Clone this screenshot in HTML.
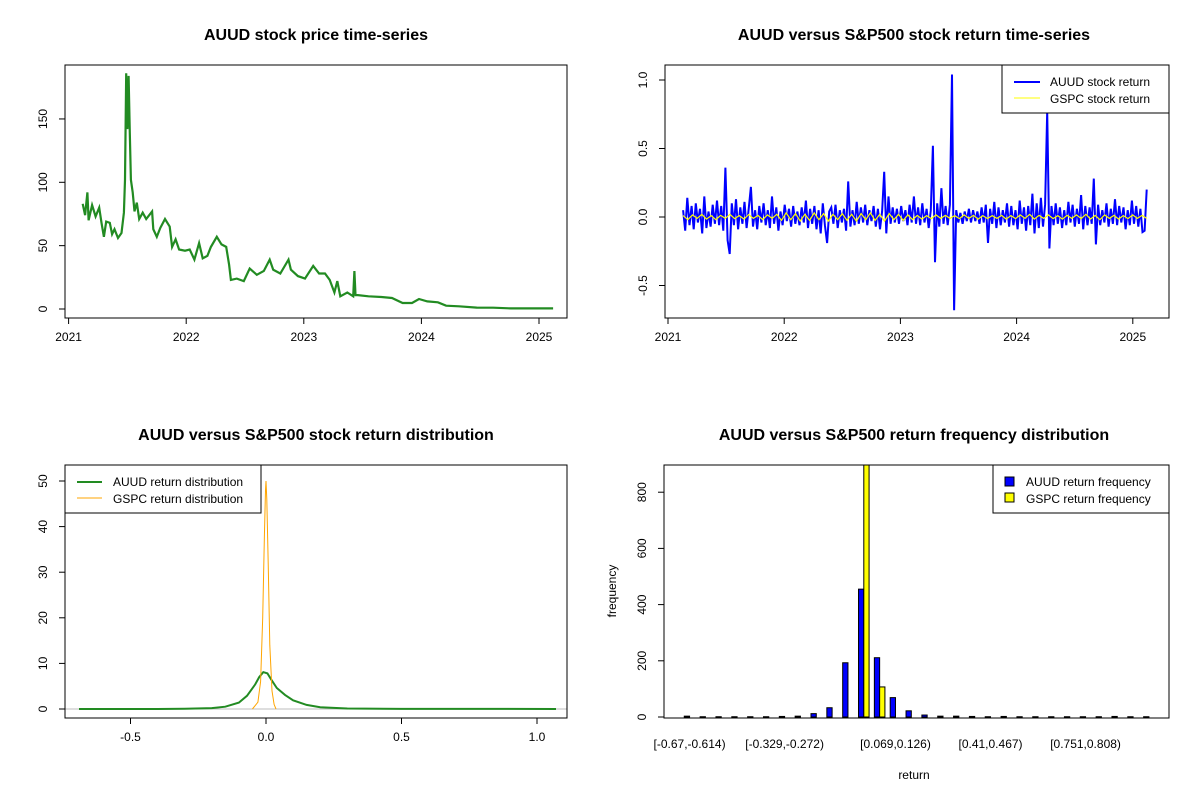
<!DOCTYPE html>
<html><head><meta charset="utf-8">
<style>
body{margin:0;background:#fff;}
svg{display:block;font-family:"Liberation Sans",Arial,sans-serif;}
.t{font-size:16px;font-weight:bold;}
.tk{font-size:12px;}
</style></head>
<body>
<svg id="c" width="1200" height="800" viewBox="0 0 1200 800"></svg>
<script>
// ---------- data ----------
const priceYears=[2021.12,2021.14,2021.16,2021.17,2021.20,2021.23,2021.26,2021.28,2021.30,2021.32,2021.35,2021.37,2021.39,2021.42,2021.45,2021.47,2021.48,2021.49,2021.50,2021.51,2021.52,2021.53,2021.545,2021.56,2021.58,2021.60,2021.63,2021.66,2021.71,2021.72,2021.75,2021.78,2021.82,2021.86,2021.88,2021.91,2021.94,2021.99,2022.03,2022.07,2022.11,2022.14,2022.18,2022.21,2022.26,2022.30,2022.34,2022.365,2022.38,2022.43,2022.49,2022.54,2022.60,2022.66,2022.71,2022.74,2022.80,2022.87,2022.89,2022.95,2023.01,2023.08,2023.13,2023.18,2023.22,2023.26,2023.285,2023.31,2023.37,2023.42,2023.43,2023.44,2023.46,2023.55,2023.66,2023.75,2023.84,2023.92,2023.98,2024.05,2024.14,2024.21,2024.32,2024.47,2024.61,2024.76,2024.91,2025.12];
const prices=[83,74,92,70,82,73,80,68,57,69,68,59,63,56,60,76,102,186,142,184,139,102,92,77,84,71,76,71,77,63,57,64,71,65,49,55,47,46,47,39,52,40,42,49,57,51,49,35,23,24,22,32,27,30,39,31,28,39,31,26,24,34,28,28,23,13,22,10,13,10,30,11,11,10,9.5,8.7,4.7,4.7,7.9,6,5.3,2.6,2.1,1.1,1,0.5,0.5,0.5];

const retStart=2021.13, retEnd=2025.12;
const auudReturns=[0.05,-0.10,0.14,-0.06,0.08,-0.09,0.10,-0.04,0.06,-0.12,0.15,-0.08,0.04,-0.07,0.09,-0.05,0.12,-0.06,0.08,-0.10,
0.36,-0.17,-0.27,0.10,-0.06,0.13,-0.09,0.07,-0.05,0.11,-0.08,0.06,0.22,-0.07,0.05,-0.09,0.08,-0.04,0.10,-0.06,
0.05,-0.08,0.15,-0.05,0.07,-0.10,0.04,-0.06,0.09,-0.03,0.06,-0.07,0.08,-0.05,0.04,-0.06,0.07,-0.04,0.12,-0.08,
0.06,-0.05,0.08,-0.09,0.05,-0.12,0.10,-0.06,-0.19,0.04,0.07,-0.05,0.09,-0.08,0.05,-0.04,0.06,-0.10,0.26,-0.07,
0.05,-0.06,0.11,-0.05,0.07,-0.04,0.09,-0.06,0.05,-0.03,0.08,-0.07,0.06,-0.09,0.04,0.33,-0.12,0.15,-0.05,0.07,
-0.04,0.06,-0.05,0.08,-0.03,0.05,-0.06,0.09,-0.04,0.15,-0.05,0.07,-0.06,0.10,-0.04,0.06,-0.08,0.05,0.52,-0.33,
0.10,-0.07,0.21,-0.05,0.08,-0.06,0.09,1.04,-0.68,0.05,-0.04,0.03,-0.05,0.04,-0.03,0.06,-0.04,0.05,-0.03,0.04,
-0.05,0.07,-0.04,0.09,-0.19,0.06,-0.05,0.11,-0.08,0.07,-0.06,0.05,-0.04,0.10,-0.07,0.08,-0.06,0.05,-0.09,0.12,
-0.05,0.07,-0.10,0.08,-0.06,0.17,-0.12,0.10,-0.08,0.14,-0.07,0.09,0.77,-0.23,0.08,-0.06,0.10,-0.05,0.07,-0.08,
0.05,-0.06,0.11,-0.04,0.09,-0.07,0.06,-0.05,0.16,-0.09,0.08,-0.06,0.07,-0.05,0.28,-0.20,0.09,-0.06,0.05,-0.04,
0.10,-0.07,0.06,-0.05,0.13,-0.06,0.08,-0.04,0.07,-0.09,0.05,-0.06,0.12,-0.05,0.08,-0.07,0.06,-0.11,-0.10,0.20];
const gspcReturns=[0.01,-0.02,0.015,-0.01,0.02,-0.015,0.01,-0.02,0.012,-0.01,0.02,-0.012,0.01,-0.015,0.018,-0.01,0.012,-0.02,0.015,-0.01,
0.02,-0.025,0.03,-0.02,0.025,-0.03,0.02,-0.025,0.03,-0.02,0.025,-0.03,0.02,-0.02,0.025,-0.025,0.02,-0.03,0.025,-0.02,
0.03,-0.025,0.02,-0.03,0.025,-0.02,0.02,-0.025,0.015,-0.02,0.012,-0.015,0.01,-0.012,0.015,-0.01,0.012,-0.01,0.01,-0.012,
0.015,-0.01,0.012,-0.015,0.01,-0.012,0.01,-0.01,0.012,-0.015,0.01,-0.012,0.015,-0.01,0.02,-0.015,0.012,-0.01,0.015,-0.012,
0.01,-0.015,0.012,-0.01,0.015,-0.012,0.02,-0.015,0.012,-0.02,0.015,-0.01,0.012,-0.015,0.01,-0.012,0.015,-0.01,0.012,-0.01];

const densAuudX=[-0.69,-0.4,-0.3,-0.2,-0.15,-0.1,-0.07,-0.04,-0.025,-0.01,0.005,0.02,0.04,0.07,0.1,0.15,0.2,0.3,0.5,0.8,1.07];
const densAuudY=[0,0,0.05,0.2,0.5,1.4,2.9,5.4,7.0,8.1,7.8,6.4,4.6,3.1,1.9,0.9,0.4,0.1,0.03,0.02,0];
const densGspcX=[-0.05,-0.03,-0.02,-0.012,-0.006,-0.002,0,0.003,0.008,0.014,0.022,0.03,0.037];
const densGspcY=[0,1.5,6,20,38,48,50,46,32,14,4,1,0];

const histLabels=["[-0.67,-0.614)","[-0.329,-0.272)","[0.069,0.126)","[0.41,0.467)","[0.751,0.808)"];
const histLabelIdx=[0,6,13,19,25];
const auudFreq=[3,1,1,1,1,1,2,3,12,33,193,455,211,69,22,7,3,3,2,1,2,1,1,1,1,1,1,2,1,1];
const gspcFreq=[0,0,0,0,0,0,0,0,0,0,0,1100,107,0,0,0,0,0,0,0,0,0,0,0,0,0,0,0,0,0];

// ---------- helpers ----------
const svg=document.getElementById('c');
const NS='http://www.w3.org/2000/svg';
function mk(tag,attrs,parent){const e=document.createElementNS(NS,tag);for(const k in attrs)e.setAttribute(k,attrs[k]);(parent||svg).appendChild(e);return e;}
function txt(s,x,y,cls,anchor,rot,parent){const e=mk('text',{x:x,y:y,'class':cls,'text-anchor':anchor||'middle'},parent);if(rot)e.setAttribute('transform','rotate(-90 '+x+' '+y+')');e.textContent=s;return e;}
function group(name){const g=mk('g',{});return g;}
function box(x1,y1,x2,y2,p){return mk('rect',{x:x1,y:y1,width:x2-x1,height:y2-y1,fill:'none',stroke:'#000','stroke-width':1},p);}
function clip(id,x1,y1,x2,y2){const d=mk('clipPath',{id:id});mk('rect',{x:x1,y:y1,width:x2-x1,height:y2-y1},d);}

// ---------- Panel 1: price ----------
(function(){
 const g=group('price-panel');
 const sx=y=>68.6+(y-2021)*117.6, sy=p=>309-p*1.267;
 txt('AUUD stock price time-series',316,40,'t','middle',false,g);
 const f=box(65,65,567,318,g);
 const xa=group('price-x-axis');g.appendChild(xa);
 mk('line',{x1:sx(2021),x2:sx(2025),y1:318,y2:318,stroke:'#000'},xa);
 for(let y=2021;y<=2025;y++){mk('line',{x1:sx(y),x2:sx(y),y1:318,y2:324,stroke:'#000'},xa);txt(String(y),sx(y),341,'tk','middle',false,xa);}
 const ya=group('price-y-axis');g.appendChild(ya);
 mk('line',{x1:65,x2:65,y1:sy(0),y2:sy(150),stroke:'#000'},ya);
 for(let v=0;v<=150;v+=50){mk('line',{x1:59,x2:65,y1:sy(v),y2:sy(v),stroke:'#000'},ya);txt(String(v),47,sy(v),'tk','middle',true,ya);}
 let d='';priceYears.forEach((y,i)=>{d+=(i?'L':'M')+sx(y).toFixed(1)+' '+sy(prices[i]).toFixed(1);});
 const l=mk('path',{d:d,fill:'none',stroke:'#228b22','stroke-width':2.2,'stroke-linejoin':'miter'},g);
 
})();

// ---------- Panel 2: returns ----------
(function(){
 const g=group('return-panel');
 const sx=y=>668+(y-2021)*116.2, sy=r=>217-r*137;
 txt('AUUD versus S&P500 stock return time-series',914,40,'t','middle',false,g);
 clip('c2',665,65,1169,318);
 const xa=group('return-x-axis');g.appendChild(xa);
 mk('line',{x1:sx(2021),x2:sx(2025),y1:318,y2:318,stroke:'#000'},xa);
 for(let y=2021;y<=2025;y++){mk('line',{x1:sx(y),x2:sx(y),y1:318,y2:324,stroke:'#000'},xa);txt(String(y),sx(y),341,'tk','middle',false,xa);}
 const ya=group('return-y-axis');g.appendChild(ya);
 const yt=[-0.5,0,0.5,1.0],yl=['-0.5','0.0','0.5','1.0'];
 mk('line',{x1:665,x2:665,y1:sy(-0.5),y2:sy(1),stroke:'#000'},ya);
 yt.forEach((v,i)=>{mk('line',{x1:659,x2:665,y1:sy(v),y2:sy(v),stroke:'#000'},ya);txt(yl[i],647,sy(v),'tk','middle',true,ya);});
 const pg=mk('g',{'clip-path':'url(#c2)'},g);
 let d='';const n=auudReturns.length;
 auudReturns.forEach((r,i)=>{const yr=retStart+i*(retEnd-retStart)/(n-1);d+=(i?'L':'M')+sx(yr).toFixed(1)+' '+sy(r).toFixed(1);});
 const l=mk('path',{d:d,fill:'none',stroke:'#0000ff','stroke-width':2},pg);
 
 let d2='';const m=gspcReturns.length;
 gspcReturns.forEach((r,i)=>{const yr=retStart+i*(retEnd-retStart)/(m-1);d2+=(i?'L':'M')+sx(yr).toFixed(1)+' '+sy(r).toFixed(1);});
 const l2=mk('path',{d:d2,fill:'none',stroke:'#ffff00','stroke-width':1.2},pg);
 
 const f=box(665,65,1169,318,g);
 const lg=group('return-legend');g.appendChild(lg);
 mk('rect',{x:1002,y:65,width:167,height:48,fill:'#fff',stroke:'#000'},lg);
 mk('line',{x1:1014,x2:1040,y1:82,y2:82,stroke:'#0000ff','stroke-width':2},lg);
 mk('line',{x1:1014,x2:1040,y1:98,y2:98,stroke:'#ffff00','stroke-width':1},lg);
 txt('AUUD stock return',1050,86,'tk','start',false,lg);
 txt('GSPC stock return',1050,103,'tk','start',false,lg);
})();

// ---------- Panel 3: density ----------
(function(){
 const g=group('density-panel');
 const sx=x=>266+x*271, sy=v=>709-v*4.56;
 txt('AUUD versus S&P500 stock return distribution',316,440,'t','middle',false,g);
 clip('c3',65,465,567,718);
 const xa=group('density-x-axis');g.appendChild(xa);
 const xt=[-0.5,0,0.5,1.0],xl=['-0.5','0.0','0.5','1.0'];
 mk('line',{x1:sx(-0.5),x2:sx(1),y1:718,y2:718,stroke:'#000'},xa);
 xt.forEach((v,i)=>{mk('line',{x1:sx(v),x2:sx(v),y1:718,y2:724,stroke:'#000'},xa);txt(xl[i],sx(v),741,'tk','middle',false,xa);});
 const ya=group('density-y-axis');g.appendChild(ya);
 mk('line',{x1:65,x2:65,y1:sy(0),y2:sy(50),stroke:'#000'},ya);
 for(let v=0;v<=50;v+=10){mk('line',{x1:59,x2:65,y1:sy(v),y2:sy(v),stroke:'#000'},ya);txt(String(v),47,sy(v),'tk','middle',true,ya);}
 const pg=mk('g',{'clip-path':'url(#c3)'},g);
 mk('line',{x1:65,x2:567,y1:sy(0),y2:sy(0),stroke:'#bebebe'},pg);
 let d='';densAuudX.forEach((x,i)=>{d+=(i?'L':'M')+sx(x).toFixed(1)+' '+sy(densAuudY[i]).toFixed(1);});
 const l=mk('path',{d:d,fill:'none',stroke:'#228b22','stroke-width':2},pg);
 
 let d2='';densGspcX.forEach((x,i)=>{d2+=(i?'L':'M')+sx(x).toFixed(1)+' '+sy(densGspcY[i]).toFixed(1);});
 const l2=mk('path',{d:d2,fill:'none',stroke:'#ffa500','stroke-width':1},pg);
 
 const f=box(65,465,567,718,g);
 const lg=group('density-legend');g.appendChild(lg);
 mk('rect',{x:65,y:465,width:196,height:48,fill:'#fff',stroke:'#000'},lg);
 mk('line',{x1:77,x2:102,y1:482,y2:482,stroke:'#228b22','stroke-width':2},lg);
 mk('line',{x1:77,x2:102,y1:498,y2:498,stroke:'#ffa500','stroke-width':1},lg);
 txt('AUUD return distribution',113,486,'tk','start',false,lg);
 txt('GSPC return distribution',113,503,'tk','start',false,lg);
})();

// ---------- Panel 4: histogram ----------
(function(){
 const g=group('histogram-panel');
 const u=5.28, x0=679;
 const bx=k=>x0+k*u, sy=v=>717-v*0.281;
 txt('AUUD versus S&P500 return frequency distribution',914,440,'t','middle',false,g);
 clip('c4',664,465,1169,718);
 const ya=group('histogram-y-axis');g.appendChild(ya);
 mk('line',{x1:664,x2:664,y1:sy(0),y2:sy(800),stroke:'#000'},ya);
 for(let v=0;v<=800;v+=200){mk('line',{x1:658,x2:664,y1:sy(v),y2:sy(v),stroke:'#000'},ya);txt(String(v),646,sy(v),'tk','middle',true,ya);}
 txt('frequency',616,591,'tk','middle',true,ya);
 const xa=group('histogram-x-axis');g.appendChild(xa);
 histLabels.forEach((s,j)=>{txt(s,bx(3*histLabelIdx[j]+2),748,'tk','middle',false,xa);});
 txt('return',914,779,'tk','middle',false,xa);
 const pg=mk('g',{'clip-path':'url(#c4)'},g);
 auudFreq.forEach((v,i)=>{
  const r=mk('rect',{x:bx(3*i+1),y:sy(v),width:u,height:Math.max(0,sy(0)-sy(v)),fill:'#0000ff',stroke:'#000','stroke-width':1},pg);
  
 });
 gspcFreq.forEach((v,i)=>{
  const r=mk('rect',{x:bx(3*i+2),y:sy(v),width:u,height:Math.max(0,sy(0)-sy(v)),fill:'#ffff00',stroke:'#000','stroke-width':1},pg);
  
 });
 const f=box(664,465,1169,718,g);
 const lg=group('histogram-legend');g.appendChild(lg);
 mk('rect',{x:993,y:465,width:176,height:48,fill:'#fff',stroke:'#000'},lg);
 mk('rect',{x:1005,y:477,width:9,height:9,fill:'#0000ff',stroke:'#000'},lg);
 mk('rect',{x:1005,y:493,width:9,height:9,fill:'#ffff00',stroke:'#000'},lg);
 txt('AUUD return frequency',1026,486,'tk','start',false,lg);
 txt('GSPC return frequency',1026,503,'tk','start',false,lg);
})();
</script>
</body></html>
